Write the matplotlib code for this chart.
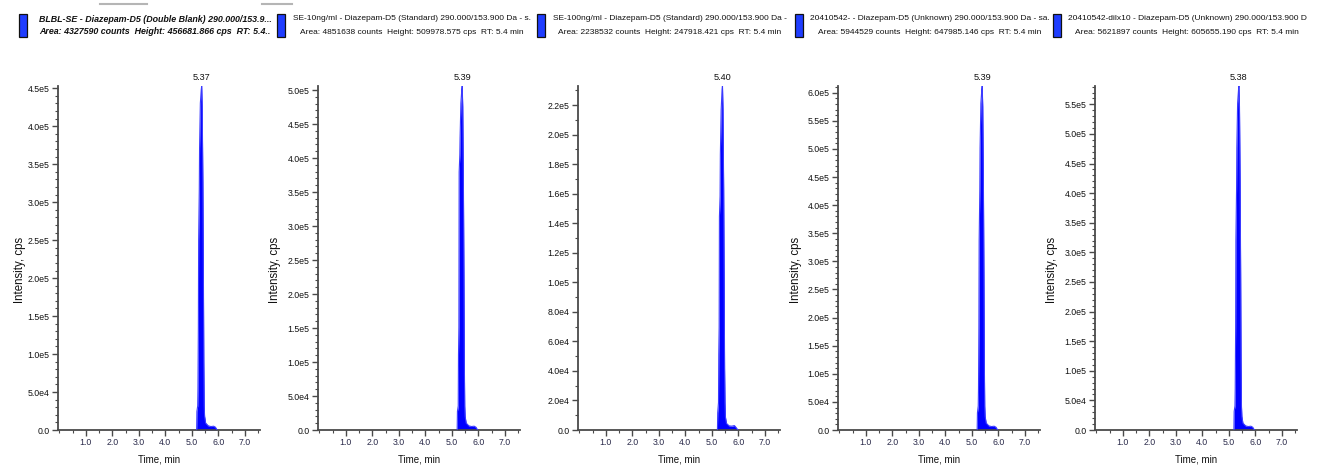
import matplotlib
matplotlib.use("Agg")
import matplotlib.pyplot as plt
from matplotlib.patches import Rectangle
from matplotlib.lines import Line2D
from matplotlib.ticker import FixedLocator, MultipleLocator

W, H = 1318, 468
NARROW = ['Liberation Sans', 'DejaVu Sans']
REG = ['Liberation Sans', 'DejaVu Sans']

# ---------------- data ----------------
titles_line1 = [
    "BLBL-SE - Diazepam-D5 (Double Blank) 290.000/153.9...",
    "SE-10ng/ml - Diazepam-D5 (Standard) 290.000/153.900 Da - s.",
    "SE-100ng/ml - Diazepam-D5 (Standard) 290.000/153.900 Da -",
    "20410542- - Diazepam-D5 (Unknown) 290.000/153.900 Da - sa.",
    "20410542-dilx10 - Diazepam-D5 (Unknown) 290.000/153.900 D",
]
titles_line2 = [
    "Area: 4327590 counts  Height: 456681.866 cps  RT: 5.4..",
    "Area: 4851638 counts  Height: 509978.575 cps  RT: 5.4 min",
    "Area: 2238532 counts  Height: 247918.421 cps  RT: 5.4 min",
    "Area: 5944529 counts  Height: 647985.146 cps  RT: 5.4 min",
    "Area: 5621897 counts  Height: 605655.190 cps  RT: 5.4 min",
]
peak_rt_labels = ["5.37", "5.39", "5.40", "5.39", "5.38"]
peak_rt = [5.37, 5.39, 5.40, 5.39, 5.38]

time_1 = [5.18, 5.19, 5.22, 5.23, 5.245, 5.255, 5.28, 5.29, 5.32, 5.355, 5.37, 5.39,
          5.415, 5.435, 5.45, 5.465, 5.48, 5.52, 5.62, 5.72, 5.82, 5.89, 5.95]
inten_1 = [0, 24500, 31700, 54400, 135900, 249200, 317100, 371500, 430400, 448500, 453000,
           425800, 326200, 203900, 90600, 31700, 18100, 9060, 5440, 4530, 4980, 3620, 0]

time_2 = [5.20, 5.21, 5.24, 5.25, 5.265, 5.275, 5.30, 5.31, 5.34, 5.375, 5.39, 5.41,
          5.435, 5.455, 5.47, 5.485, 5.50, 5.54, 5.64, 5.74, 5.84, 5.91, 5.97]
inten_2 = [0, 27300, 35400, 111300, 151800, 379500, 404800, 430100, 480700, 501000, 506000,
           475600, 364300, 227700, 101200, 35400, 20200, 10100, 6100, 5100, 5600, 4000, 0]

time_3 = [5.21, 5.22, 5.25, 5.26, 5.275, 5.285, 5.31, 5.32, 5.35, 5.385, 5.40, 5.42,
          5.445, 5.465, 5.48, 5.495, 5.51, 5.55, 5.65, 5.75, 5.85, 5.92, 5.98]
inten_3 = [0, 11650, 18640, 51260, 69900, 144460, 158440, 186400, 216690, 230670, 233000,
           216690, 163100, 97860, 41940, 18640, 9000, 4500, 2800, 2600, 3000, 1500, 0]

time_4 = [5.20, 5.21, 5.24, 5.25, 5.265, 5.275, 5.30, 5.31, 5.34, 5.375, 5.39, 5.41,
          5.435, 5.455, 5.47, 5.485, 5.50, 5.54, 5.64, 5.74, 5.84, 5.91, 5.97]
inten_4 = [0, 30600, 42840, 73440, 183600, 336600, 428400, 501840, 581400, 605880, 612000,
           575280, 440640, 275400, 122400, 42840, 24480, 12240, 7340, 6120, 6730, 4900, 0]

time_5 = [5.19, 5.20, 5.23, 5.24, 5.255, 5.265, 5.29, 5.30, 5.33, 5.365, 5.38, 5.40,
          5.425, 5.445, 5.46, 5.475, 5.49, 5.53, 5.63, 5.73, 5.83, 5.90, 5.96]
inten_5 = [0, 31370, 40670, 69720, 174300, 319550, 406700, 476420, 551950, 575190, 581000,
           546140, 418320, 261450, 116200, 40670, 23240, 11620, 6970, 5810, 6390, 4650, 0]

times = [time_1, time_2, time_3, time_4, time_5]
intens = [inten_1, inten_2, inten_3, inten_4, inten_5]

ytick_vals_1 = [0, 5e4, 1e5, 1.5e5, 2e5, 2.5e5, 3e5, 3.5e5, 4e5, 4.5e5]
ytick_labs_1 = ["0.0", "5.0e4", "1.0e5", "1.5e5", "2.0e5", "2.5e5", "3.0e5", "3.5e5", "4.0e5", "4.5e5"]
ytick_vals_2 = [0, 5e4, 1e5, 1.5e5, 2e5, 2.5e5, 3e5, 3.5e5, 4e5, 4.5e5, 5e5]
ytick_labs_2 = ["0.0", "5.0e4", "1.0e5", "1.5e5", "2.0e5", "2.5e5", "3.0e5", "3.5e5", "4.0e5", "4.5e5", "5.0e5"]
ytick_vals_3 = [0, 2e4, 4e4, 6e4, 8e4, 1e5, 1.2e5, 1.4e5, 1.6e5, 1.8e5, 2e5, 2.2e5]
ytick_labs_3 = ["0.0", "2.0e4", "4.0e4", "6.0e4", "8.0e4", "1.0e5", "1.2e5", "1.4e5", "1.6e5", "1.8e5", "2.0e5", "2.2e5"]
ytick_vals_4 = [0, 5e4, 1e5, 1.5e5, 2e5, 2.5e5, 3e5, 3.5e5, 4e5, 4.5e5, 5e5, 5.5e5, 6e5]
ytick_labs_4 = ["0.0", "5.0e4", "1.0e5", "1.5e5", "2.0e5", "2.5e5", "3.0e5", "3.5e5", "4.0e5", "4.5e5", "5.0e5", "5.5e5", "6.0e5"]
ytick_vals_5 = [0, 5e4, 1e5, 1.5e5, 2e5, 2.5e5, 3e5, 3.5e5, 4e5, 4.5e5, 5e5, 5.5e5]
ytick_labs_5 = ["0.0", "5.0e4", "1.0e5", "1.5e5", "2.0e5", "2.5e5", "3.0e5", "3.5e5", "4.0e5", "4.5e5", "5.0e5", "5.5e5"]
ytick_vals = [ytick_vals_1, ytick_vals_2, ytick_vals_3, ytick_vals_4, ytick_vals_5]
ytick_labs = [ytick_labs_1, ytick_labs_2, ytick_labs_3, ytick_labs_4, ytick_labs_5]

xtick_vals = [1.0, 2.0, 3.0, 4.0, 5.0, 6.0, 7.0]
xtick_labs = ["1.0", "2.0", "3.0", "4.0", "5.0", "6.0", "7.0"]
show_ylabel = [True, True, False, True, True]

# ---------------- layout ----------------
ax_left_px = [58, 318, 578, 838, 1095]
ax_w_px = 202
ax_top_px, ax_bot_px = 86, 430
icon_x_px = [19, 277, 537, 795, 1053]
title_cx_px = [155, 412, 670, 930, 1187]
ylabel_x_px = [20, 275, None, 796, 1052]

def fx(x):
    return x / W

def fy(y):
    return 1 - y / H

fig = plt.figure(figsize=(W / 100, H / 100), dpi=100)
fig.patch.set_facecolor("white")

spine_col = "#4a4a4a"
for i in range(5):
    ax = fig.add_axes([fx(ax_left_px[i]), fy(ax_bot_px), ax_w_px / W, (ax_bot_px - ax_top_px) / H])
    t, v = times[i], intens[i]
    ax.fill_between(t, 0, v, color="#0000ff", lw=0, zorder=2)
    ax.plot(t, v, color="#3b3bff", lw=0.8, zorder=3)
    ax.set_xlim(-0.05, 7.57)
    ax.set_ylim(0, max(v))
    for s in ("top", "right"):
        ax.spines[s].set_visible(False)
    for s in ("left", "bottom"):
        ax.spines[s].set_color(spine_col)
        ax.spines[s].set_linewidth(1.3)
    ax.xaxis.set_major_locator(FixedLocator(xtick_vals))
    ax.set_xticklabels(xtick_labs)
    ax.xaxis.set_minor_locator(MultipleLocator(0.5))
    ax.yaxis.set_major_locator(FixedLocator(ytick_vals[i]))
    ax.set_yticklabels(ytick_labs[i])
    ax.yaxis.set_minor_locator(MultipleLocator(1e4))
    ax.tick_params(axis="both", which="major", length=4, width=1, color=spine_col,
                   labelsize=6.3, pad=2)
    ax.tick_params(axis="both", which="minor", length=2, width=0.8, color=spine_col)
    for lab in ax.get_xticklabels():
        lab.set_family(NARROW)
        lab.set_color("#2a2a4a")
    for lab in ax.get_yticklabels():
        lab.set_family(NARROW)
        lab.set_color("#111111")
    ax.set_xlabel("Time, min", family=NARROW, fontsize=7, labelpad=5, color="#111111")
    ax.annotate(peak_rt_labels[i], xy=(peak_rt[i], max(v)), xytext=(0, 3),
                textcoords="offset points", ha="center", va="bottom",
                fontsize=6.6, family=NARROW, color="#111111")
    ax.set_facecolor("none")

    # header icon and titles
    fig.patches.append(Rectangle((fx(icon_x_px[i]), fy(37)), 8 / W, 23 / H,
                                 transform=fig.transFigure, facecolor="#1f3dff",
                                 edgecolor="#111111", lw=0.9))
    weight = "bold" if i == 0 else "normal"
    style = "italic" if i == 0 else "normal"
    fs = 6.4 if i == 0 else 6.0
    fig.text(fx(title_cx_px[i]), fy(19), titles_line1[i], ha="center", va="center",
             fontsize=fs, family=NARROW, weight=weight, style=style, color="#111111")
    fig.text(fx(title_cx_px[i]), fy(32), titles_line2[i], ha="center", va="center",
             fontsize=fs, family=NARROW, weight=weight, style=style, color="#111111")
    if show_ylabel[i]:
        fig.text(fx(ylabel_x_px[i]), fy(270), "Intensity, cps", rotation=90,
                 ha="center", va="center", fontsize=8.3, family=REG, color="#111111")

# small gray scroll marks at top
fig.lines.append(Line2D([fx(100), fx(147)], [fy(4), fy(4)], transform=fig.transFigure,
                        color="#b5b5b5", lw=1.5))
fig.lines.append(Line2D([fx(262), fx(292)], [fy(4), fy(4)], transform=fig.transFigure,
                        color="#b5b5b5", lw=1.5))

fig.savefig("out.png", dpi=100, facecolor="white")
